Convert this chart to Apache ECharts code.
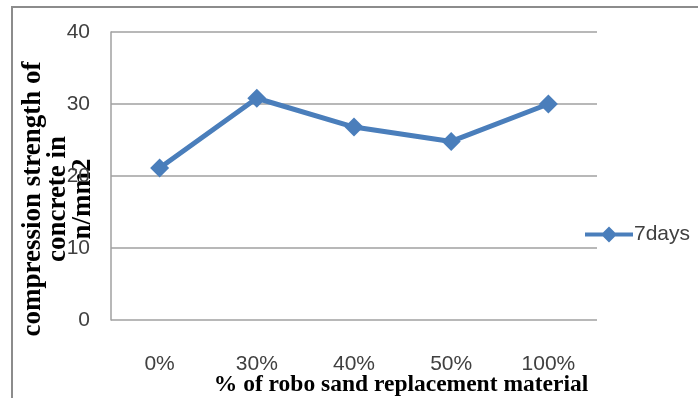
<!DOCTYPE html>
<html>
<head>
<meta charset="utf-8">
<script src="https://cdn.jsdelivr.net/npm/echarts@6/dist/echarts.min.js"></script>
<style>
  html, body { margin: 0; padding: 0; background: #fff; }
  #chart { width: 698px; height: 398px; }
</style>
</head>
<body>
<div id="chart"></div>
<script>
// Replacement levels and 7-day compressive strength (n/mm2)
const categories = ['0%', '30%', '40%', '50%', '100%'];
const strength7days = [21.1, 30.8, 26.8, 24.8, 30.0];
const seriesName = '7days';
const yTicks = { min: 0, max: 40, interval: 10 };

const chart = echarts.init(document.getElementById('chart'), null, { renderer: 'canvas' });

const blue = '#4a7ebb';
const labelFont = '"Liberation Sans", Arial, sans-serif';
const titleFont = '"Liberation Serif", "Times New Roman", serif';

chart.setOption({
  animation: false,
  backgroundColor: '#ffffff',
  graphic: [{
    type: 'rect',
    shape: { x: 12, y: 7, width: 700, height: 400 },
    style: { fill: 'none', stroke: '#8c8c8c', lineWidth: 2 },
    silent: true,
    z: -1
  }],
  grid: { left: 111, top: 32, width: 486, height: 288, containLabel: false, outerBoundsMode: 'none' },
  legend: {
    show: true,
    data: [seriesName],
    orient: 'vertical',
    left: 580,
    top: 219,
    itemWidth: 48,
    itemHeight: 16,
    itemGap: 6,
    icon: 'path://M0,6 L18,6 L24,0 L30,6 L48,6 L48,10 L30,10 L24,16 L18,10 L0,10 Z',
    itemStyle: { color: blue },
    textStyle: { fontFamily: labelFont, fontSize: 21, color: '#404040', padding: [0, 0, 0, -4] }
  },
  xAxis: {
    type: 'category',
    data: categories,
    boundaryGap: true,
    axisLine: { show: false },
    axisTick: { show: false },
    axisLabel: {
      margin: 34,
      fontFamily: labelFont,
      fontSize: 21,
      color: '#404040'
    },
    name: '% of robo sand replacement material',
    nameLocation: 'middle',
    nameGap: 53,
    nameMoveOverlap: false,
    nameTextStyle: {
      fontFamily: titleFont,
      fontWeight: 'bold',
      fontSize: 23.5,
      color: '#000',
      padding: [0, 0, 0, 94]
    }
  },
  yAxis: {
    type: 'value',
    min: yTicks.min,
    max: yTicks.max,
    interval: yTicks.interval,
    axisLine: { show: true, lineStyle: { color: '#a0a0a0', width: 1.5 } },
    axisTick: { show: false },
    splitLine: { show: true, lineStyle: { color: '#a0a0a0', width: 1.5 } },
    axisLabel: {
      margin: 21,
      fontFamily: labelFont,
      fontSize: 21,
      color: '#404040'
    },
    name: 'compression strength of\nconcrete in\nn/mm2',
    nameLocation: 'middle',
    nameRotate: 90,
    nameGap: 15,
    nameMoveOverlap: false,
    nameTextStyle: {
      fontFamily: titleFont,
      fontWeight: 'bold',
      fontSize: 27,
      lineHeight: 25,
      color: '#000',
      padding: [0, 46, 0, 0]
    }
  },
  series: [{
    name: seriesName,
    type: 'line',
    data: strength7days,
    symbol: 'diamond',
    symbolSize: 19,
    lineStyle: { color: blue, width: 5 },
    itemStyle: { color: blue },
    z: 3
  }]
});
</script>
</body>
</html>
